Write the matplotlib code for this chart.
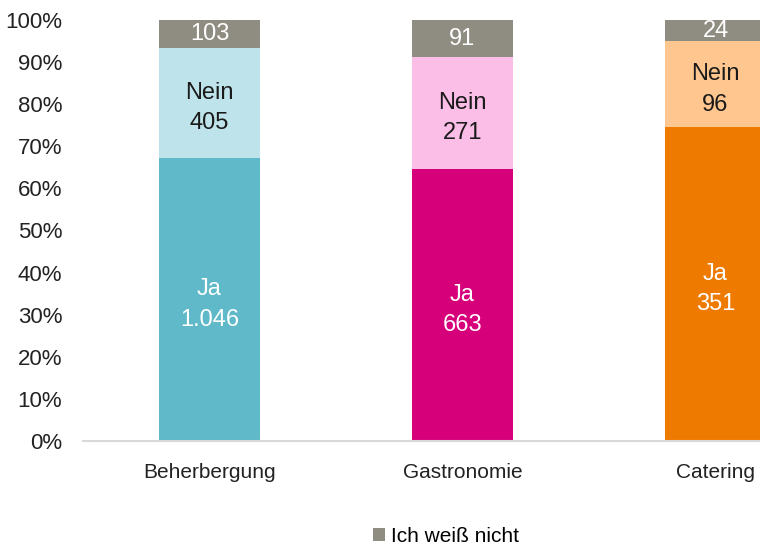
import matplotlib
matplotlib.use("Agg")
import matplotlib.pyplot as plt
from matplotlib.patches import Patch

categories = ["Beherbergung", "Gastronomie", "Catering"]
ja = [1046, 663, 351]
nein = [405, 271, 96]
weiss = [103, 91, 24]
ja_labels = ["Ja\n1.046", "Ja\n663", "Ja\n351"]
nein_labels = ["Nein\n405", "Nein\n271", "Nein\n96"]
weiss_labels = ["103", "91", "24"]
yticks = [0, 0.1, 0.2, 0.3, 0.4, 0.5, 0.6, 0.7, 0.8, 0.9, 1.0]
ytick_labels = ["0%", "10%", "20%", "30%", "40%", "50%", "60%", "70%", "80%", "90%", "100%"]

ja_colors = ["#5FB9C9", "#D6007A", "#EE7A00"]
nein_colors = ["#BEE3EA", "#FBBEE6", "#FFC78F"]
grey = "#8F8C81"

plt.rcParams["font.family"] = ["Liberation Sans", "DejaVu Sans"]

fig = plt.figure(figsize=(7.6, 5.49), dpi=100)
ax = fig.add_axes([83 / 760, 108 / 549, 759 / 760, 421 / 549])

x = list(range(len(categories)))
totals = [a + b + c for a, b, c in zip(ja, nein, weiss)]
ja_p = [a / t for a, t in zip(ja, totals)]
nein_p = [b / t for b, t in zip(nein, totals)]
weiss_p = [c / t for c, t in zip(weiss, totals)]
w = 0.4

ax.bar(x, ja_p, width=w, color=ja_colors, linewidth=0)
ax.bar(x, nein_p, width=w, bottom=ja_p, color=nein_colors, linewidth=0)
ax.bar(x, weiss_p, width=w, bottom=[a + b for a, b in zip(ja_p, nein_p)], color=grey, linewidth=0)

fs = 17
for i in x:
    ax.text(i, ja_p[i] / 2 - 0.012, ja_labels[i], ha="center", va="center", color="white",
            fontsize=fs, linespacing=1.5)
    ax.text(i, ja_p[i] + nein_p[i] / 2 - 0.012, nein_labels[i], ha="center", va="center",
            color="#1a1a1a", fontsize=fs, linespacing=1.5)
    ax.text(i, ja_p[i] + nein_p[i] + weiss_p[i] / 2, weiss_labels[i], ha="center",
            va="center", color="white", fontsize=fs)

ax.set_xlim(-0.5, 2.5)
ax.set_ylim(0, 1)
ax.set_yticks(yticks)
ax.set_yticklabels(ytick_labels, fontsize=16, color="#222222")
ax.set_xticks(x)
ax.set_xticklabels(categories, fontsize=15, color="#222222")
ax.tick_params(axis="y", length=0, pad=15)
ax.tick_params(axis="x", length=0, pad=16)
for s in ["top", "right", "left"]:
    ax.spines[s].set_visible(False)
ax.spines["bottom"].set_color("#D9D9D9")
ax.spines["bottom"].set_linewidth(1.5)

handle = Patch(facecolor=grey, edgecolor="none")
fig.legend([handle], ["Ich weiß nicht"], loc="center", bbox_to_anchor=(446 / 760, 1 - 536 / 549),
           frameon=False, fontsize=15, handlelength=0.6, handleheight=0.6, handletextpad=0.3)

fig.savefig("out.png", dpi=100)
